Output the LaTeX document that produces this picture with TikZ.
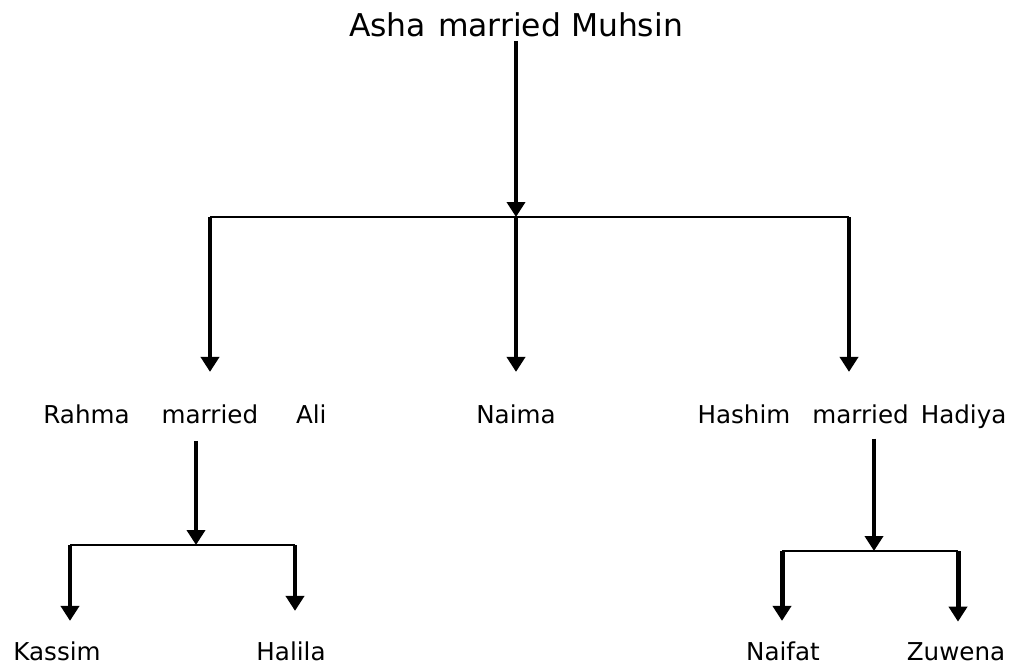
\documentclass[tikz,border=0pt]{standalone}
\usepackage{fontspec}
\setmainfont{DejaVu Sans}
\usepackage{tikz}
\usetikzlibrary{arrows.meta}

\begin{document}
\begin{tikzpicture}[x=0.5pt,y=-0.5pt]
                \tikzstyle{person} = [inner sep=0pt, anchor=base, font=\fontsize{12.3}{14}\selectfont]
                \tikzstyle{bigperson} = [person, font=\fontsize{15.7}{18}\selectfont]
                \tikzstyle{arrow} = [line width=2pt,-{Triangle[width=9pt,length=7.5pt]}]
                \tikzstyle{bar} = [line width=1pt]
                \useasboundingbox (0,0) rectangle (1016,664);

                % people
                \node (asha) [bigperson] at (516,36) {Asha\hspace{6pt}married Muhsin};
                \node (rahma) [person] at (185,423) {Rahma\hspace{16pt}married\hspace{19pt}Ali};
                \node (naima) [person] at (516,423) {Naima};
                \node (hashim) [person] at (852,423) {Hashim\hspace{11pt}married\hspace{6pt}Hadiya};
                \node (kassim) [person] at (57,660) {Kassim};
                \node (halila) [person] at (291,660) {Halila};
                \node (naifat) [person] at (783,660) {Naifat};
                \node (zuwena) [person] at (956,660) {Zuwena};

                % junctions
                \coordinate (jtop) at (516,217);
                \coordinate (jtopl) at (210,217);
                \coordinate (jtopr) at (849,217);
                \coordinate (jrah) at (196,545);
                \coordinate (jrahl) at (70,545);
                \coordinate (jrahr) at (295,545);
                \coordinate (jhas) at (874,551);
                \coordinate (jhasl) at (782,551);
                \coordinate (jhasr) at (958,551);

                \draw [arrow, shorten <=2pt] (asha) -- (jtop);
                \draw [bar] (jtopl) -- (jtopr);
                \draw [arrow, shorten >=16pt] (jtop) -- (naima);
                \draw [arrow, shorten >=16pt] (jtopl) -- (jtopl |- rahma.north);
                \draw [arrow, shorten >=16pt] (jtopr) -- (jtopr |- hashim.north);

                \draw [arrow, shorten <=8.5pt] (rahma.south -| jrah) -- (jrah);
                \draw [bar] (jrahl) -- (jrahr);
                \draw [arrow, shorten >=10pt] (jrahl) -- (jrahl |- kassim.north);
                \draw [arrow, shorten >=15pt] (jrahr) -- (jrahr |- halila.north);

                \draw [arrow, shorten <=5pt] (hashim.south -| jhas) -- (jhas);
                \draw [bar] (jhasl) -- (jhasr);
                \draw [arrow, line width=2.5pt, shorten >=10pt] (jhasl) -- (jhasl |- naifat.north);
                \draw [arrow, line width=2.5pt, shorten >=10pt] (jhasr) -- (jhasr |- zuwena.north);
\end{tikzpicture}
\end{document}
